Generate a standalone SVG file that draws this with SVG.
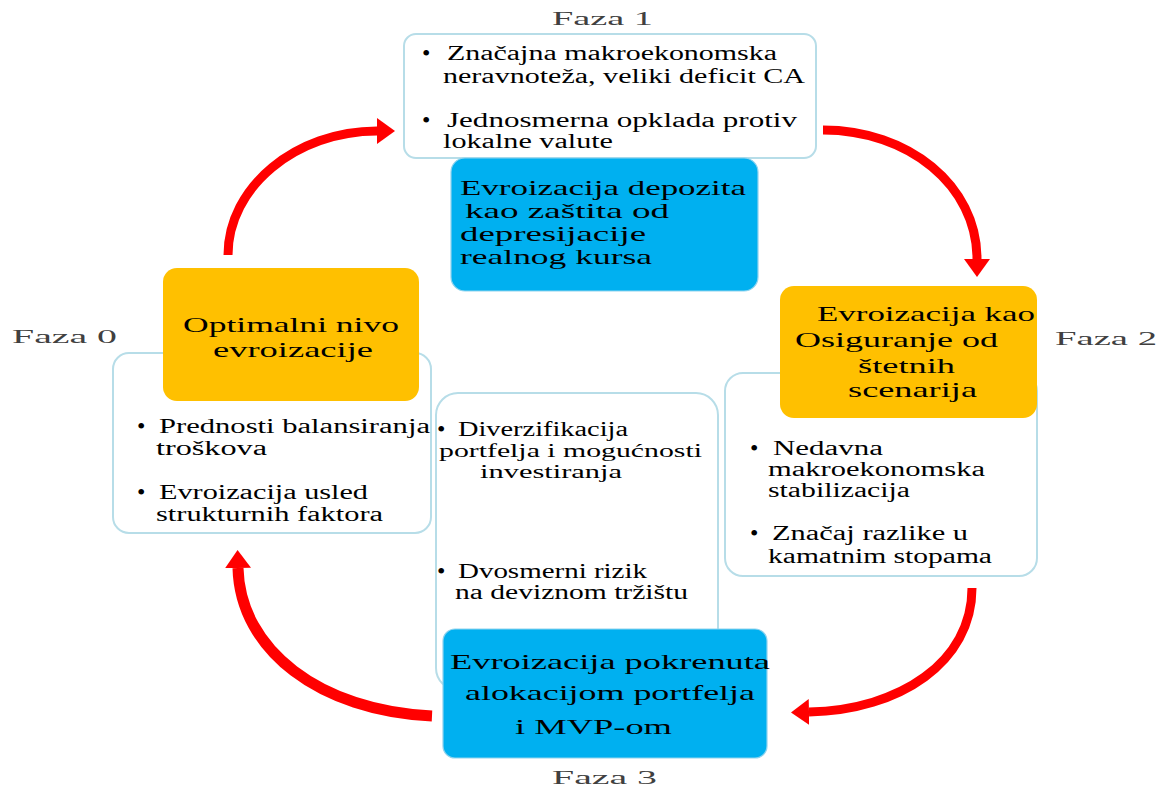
<svg xmlns="http://www.w3.org/2000/svg" width="1160" height="787" viewBox="0 0 1160 787">
  <style>
    .panel { fill: #ffffff; stroke: #b7dde8; stroke-width: 2; }
    .blue { fill: #00b0f0; stroke: #8fd3ee; stroke-width: 1.2; }
    .gold { fill: #ffc000; }
    .t { font-family: "Liberation Serif", "Times New Roman", serif; font-size: 20px; fill: #000000; }
    .s { font-family: "Liberation Serif", "Times New Roman", serif; font-size: 19px; fill: #000000; }
    .b { font-family: "Liberation Serif", "Times New Roman", serif; font-size: 24px; fill: #000000; }
    .h { font-family: "Liberation Serif", "Times New Roman", serif; font-size: 22px; fill: #000000; }
    .hs { font-family: "Liberation Serif", "Times New Roman", serif; font-size: 21px; fill: #000000; }
    .phase { font-family: "Liberation Serif", "Times New Roman", serif; font-size: 19px; fill: #404040; }
    .arrow { fill: none; stroke: #ff0000; stroke-width: 9; }
  </style>
  <defs>
    <marker id="head" markerUnits="userSpaceOnUse" markerWidth="20" markerHeight="28" refX="0" refY="13" orient="auto">
      <path d="M0,0 L18,13 L0,26 Z" fill="#ff0000"/>
    </marker>
  </defs>

  <rect width="1160" height="787" fill="#ffffff"/>

  <!-- Phase 1 -->
  <g id="faza1">
    <text class="phase" x="552" y="25" textLength="101" lengthAdjust="spacingAndGlyphs">Faza 1</text>
    <rect class="panel" x="404" y="34" width="412" height="124" rx="12"/>
    <text class="b" x="422" y="61">•</text>
    <text class="t" x="447" y="60" textLength="330" lengthAdjust="spacingAndGlyphs">Značajna makroekonomska</text>
    <text class="t" x="443" y="83" textLength="362" lengthAdjust="spacingAndGlyphs">neravnoteža, veliki deficit CA</text>
    <text class="b" x="422" y="128">•</text>
    <text class="t" x="447" y="127" textLength="350" lengthAdjust="spacingAndGlyphs">Jednosmerna opklada protiv</text>
    <text class="t" x="443" y="148" textLength="170" lengthAdjust="spacingAndGlyphs">lokalne valute</text>
  </g>
  <g id="faza1-title">
    <rect class="blue" x="451" y="158" width="307" height="133" rx="14"/>
    <text class="hs" x="460" y="195" textLength="286" lengthAdjust="spacingAndGlyphs">Evroizacija depozita</text>
    <text class="hs" x="465" y="218" textLength="204" lengthAdjust="spacingAndGlyphs">kao zaštita od</text>
    <text class="hs" x="460" y="241" textLength="186" lengthAdjust="spacingAndGlyphs">depresijacije</text>
    <text class="hs" x="460" y="264" textLength="192" lengthAdjust="spacingAndGlyphs">realnog kursa</text>
  </g>

  <!-- Phase 0 -->
  <g id="faza0">
    <text class="phase" x="12" y="343" textLength="105" lengthAdjust="spacingAndGlyphs">Faza 0</text>
    <rect class="panel" x="113" y="353" width="318" height="180" rx="16"/>
    <text class="b" x="137" y="434">•</text>
    <text class="t" x="159" y="433" textLength="271" lengthAdjust="spacingAndGlyphs">Prednosti balansiranja</text>
    <text class="t" x="156" y="455" textLength="111" lengthAdjust="spacingAndGlyphs">troškova</text>
    <text class="b" x="137" y="500">•</text>
    <text class="t" x="159" y="499" textLength="209" lengthAdjust="spacingAndGlyphs">Evroizacija usled</text>
    <text class="t" x="156" y="521" textLength="227" lengthAdjust="spacingAndGlyphs">strukturnih faktora</text>
  </g>
  <g id="faza0-title">
    <rect class="gold" x="163" y="268" width="256" height="133" rx="14"/>
    <text class="h" x="183" y="332" textLength="216" lengthAdjust="spacingAndGlyphs">Optimalni nivo</text>
    <text class="h" x="213" y="357" textLength="160" lengthAdjust="spacingAndGlyphs">evroizacije</text>
  </g>

  <!-- Phase 2 -->
  <g id="faza2">
    <text class="phase" x="1055" y="345" textLength="102" lengthAdjust="spacingAndGlyphs">Faza 2</text>
    <rect class="panel" x="725" y="373" width="312" height="203" rx="18"/>
    <text class="b" x="750" y="456">•</text>
    <text class="t" x="773" y="455" textLength="110" lengthAdjust="spacingAndGlyphs">Nedavna</text>
    <text class="t" x="768" y="476" textLength="217" lengthAdjust="spacingAndGlyphs">makroekonomska</text>
    <text class="t" x="768" y="497" textLength="142" lengthAdjust="spacingAndGlyphs">stabilizacija</text>
    <text class="b" x="750" y="541">•</text>
    <text class="t" x="772" y="540" textLength="196" lengthAdjust="spacingAndGlyphs">Značaj razlike u</text>
    <text class="t" x="768" y="563" textLength="224" lengthAdjust="spacingAndGlyphs">kamatnim stopama</text>
  </g>
  <g id="faza2-title">
    <rect class="gold" x="780" y="286" width="257" height="132" rx="14"/>
    <text class="h" x="817" y="321" textLength="218" lengthAdjust="spacingAndGlyphs">Evroizacija kao</text>
    <text class="h" x="795" y="347" textLength="203" lengthAdjust="spacingAndGlyphs">Osiguranje od</text>
    <text class="h" x="858" y="373" textLength="97" lengthAdjust="spacingAndGlyphs">štetnih</text>
    <text class="h" x="848" y="397" textLength="129" lengthAdjust="spacingAndGlyphs">scenarija</text>
  </g>

  <!-- Phase 3 -->
  <g id="faza3">
    <rect class="panel" x="436" y="393" width="282" height="297" rx="22"/>
    <text class="b" x="437" y="437">•</text>
    <text class="t" x="458" y="436" textLength="170" lengthAdjust="spacingAndGlyphs">Diverzifikacija</text>
    <text class="s" x="439" y="457" textLength="263" lengthAdjust="spacingAndGlyphs">portfelja i mogućnosti</text>
    <text class="s" x="480" y="478" textLength="142" lengthAdjust="spacingAndGlyphs">investiranja</text>
    <text class="b" x="437" y="579">•</text>
    <text class="t" x="458" y="578" textLength="189" lengthAdjust="spacingAndGlyphs">Dvosmerni rizik</text>
    <text class="t" x="455" y="599" textLength="233" lengthAdjust="spacingAndGlyphs">na deviznom tržištu</text>
  </g>
  <g id="faza3-title">
    <rect class="blue" x="443" y="629" width="324" height="129" rx="12"/>
    <text class="h" x="450" y="669" textLength="320" lengthAdjust="spacingAndGlyphs">Evroizacija pokrenuta</text>
    <text class="h" x="465" y="700" textLength="290" lengthAdjust="spacingAndGlyphs">alokacijom portfelja</text>
    <text class="h" x="515" y="734" textLength="157" lengthAdjust="spacingAndGlyphs">i MVP-om</text>
    <text class="phase" x="552" y="784" textLength="105" lengthAdjust="spacingAndGlyphs">Faza 3</text>
  </g>

  <!-- Cycle arrows -->
  <g id="connectors">
    <path class="arrow" marker-end="url(#head)" d="M228,255 C228,187 296,131 377,131"/>
    <path class="arrow" marker-end="url(#head)" d="M823,130 C908,130 977,185 977,259"/>
    <path class="arrow" marker-end="url(#head)" d="M972,588 C972,662 900,710 809,712"/>
    <path class="arrow" style="stroke-width:11" marker-end="url(#head)" d="M432,716 C320,711 240,650 238,568"/>
  </g>
</svg>
